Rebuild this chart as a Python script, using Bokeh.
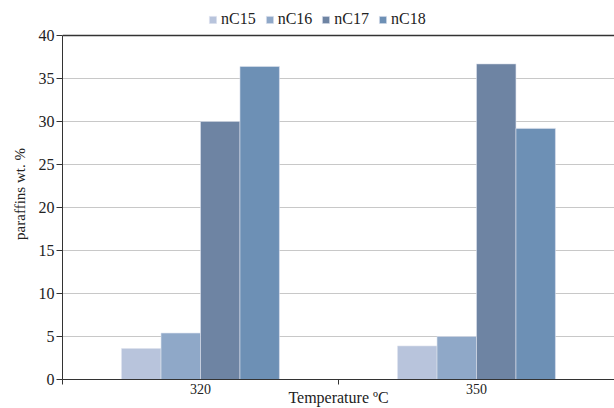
from bokeh.plotting import figure
from bokeh.models import (Range1d, FixedTicker, Legend, LegendItem, Span,
                          ColumnDataSource)
from bokeh.embed import file_html
from bokeh.resources import INLINE

categories = ["320", "350"]
series_names = ["nC15", "nC16", "nC17", "nC18"]
nC15 = [3.6, 3.9]
nC16 = [5.4, 5.0]
nC17 = [30.0, 36.7]
nC18 = [36.4, 29.2]
colors = ["#b8c4dc", "#8fa8c8", "#6e84a3", "#6d90b5"]
yticks = [0, 5, 10, 15, 20, 25, 30, 35, 40]

values = [nC15, nC16, nC17, nC18]
FONT = "Liberation Serif"

# frame extends above y=40 to leave room for the legend
p = figure(width=614, height=408, output_backend="svg", toolbar_location=None,
           x_range=Range1d(0, len(categories)), y_range=Range1d(0, 43.14),
           min_border_left=62, min_border_right=0, min_border_top=8,
           min_border_bottom=29)
p.outline_line_color = None
p.background_fill_color = "white"
p.border_fill_color = "white"

bar_w = 0.143
centers = [i + 0.5 for i in range(len(categories))]
items = []
for k, (name, vals, col) in enumerate(zip(series_names, values, colors)):
    off = (k - 1.5) * bar_w
    src = ColumnDataSource(dict(x=[c + off for c in centers], top=vals))
    r = p.vbar(x="x", top="top", width=bar_w, source=src, fill_color=col,
               line_color="#dde3ee", line_width=0.6)
    items.append(LegendItem(label=name, renderers=[r]))

# axes
p.xaxis.ticker = FixedTicker(ticks=centers, minor_ticks=[0, 1, 2])
p.xaxis.major_label_overrides = {c: lab for c, lab in zip(centers, categories)}
p.xaxis.major_tick_out = 0
p.xaxis.major_tick_in = 0
p.xaxis.minor_tick_out = 5
p.xaxis.minor_tick_in = 0
p.xaxis.axis_line_color = "#333333"
p.xaxis.minor_tick_line_color = "#333333"
p.xaxis.major_label_text_font = FONT
p.xaxis.major_label_text_font_size = "14px"
p.xaxis.major_label_text_color = "#222222"
p.xaxis.major_label_standoff = -1
p.xaxis.axis_label = "Temperature ºC"
p.xaxis.axis_label_text_font = FONT
p.xaxis.axis_label_text_font_style = "normal"
p.xaxis.axis_label_text_font_size = "16px"
p.xaxis.axis_label_text_color = "#222222"
p.xaxis.axis_label_standoff = -8

p.yaxis.ticker = FixedTicker(ticks=yticks, minor_ticks=[])
p.yaxis.bounds = (0, 40)
p.yaxis.major_tick_out = 6
p.yaxis.major_tick_in = 0
p.yaxis.axis_line_color = "#333333"
p.yaxis.major_tick_line_color = "#333333"
p.yaxis.major_label_text_font = FONT
p.yaxis.major_label_text_font_size = "16px"
p.yaxis.major_label_text_color = "#222222"
p.yaxis.major_label_standoff = 2
p.yaxis.axis_label = "paraffins wt. %"
p.yaxis.axis_label_text_font = FONT
p.yaxis.axis_label_text_font_style = "normal"
p.yaxis.axis_label_text_font_size = "15px"
p.yaxis.axis_label_text_color = "#222222"
p.yaxis.axis_label_standoff = 8

p.xgrid.grid_line_color = None
p.ygrid.ticker = FixedTicker(ticks=yticks[1:-1])
p.ygrid.grid_line_color = "#c8c8c8"
p.ygrid.grid_line_width = 1

p.add_layout(Span(location=40, dimension="width", line_color="#333333",
                  line_width=1.5))

legend = Legend(items=items, orientation="horizontal", location=(146, 351))
legend.label_text_font = FONT
legend.label_text_font_size = "16px"
legend.label_text_color = "#222222"
legend.glyph_width = 9
legend.glyph_height = 9
legend.label_standoff = 4
legend.spacing = 9
legend.padding = 0
legend.margin = 0
legend.border_line_color = None
legend.background_fill_alpha = 0
p.add_layout(legend)

open("out.html", "w").write(file_html(p, INLINE))
